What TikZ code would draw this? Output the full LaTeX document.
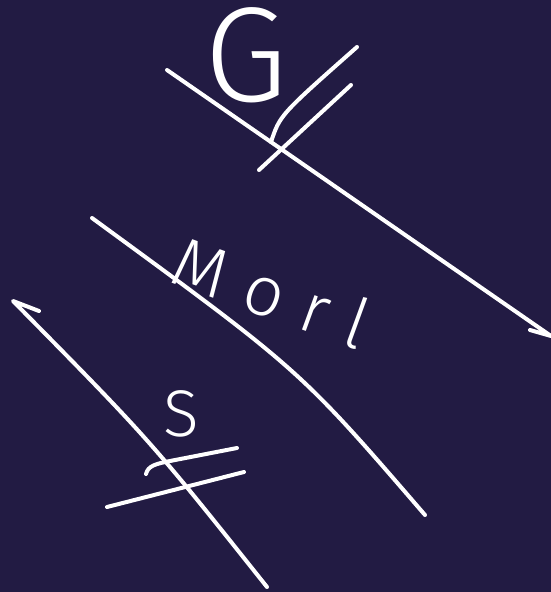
\documentclass[tikz,border=0pt]{standalone}
\usepackage{fontspec}
\usepackage{tikz}
\usetikzlibrary{arrows.meta}
\newfontfamily\hand{Fira Sans Light}
\newfontfamily\handwide{Fira Sans Light}[LetterSpace=30]
\definecolor{board}{RGB}{34,27,67}
\tikzset{
  chalk/.style={white,line width=4pt,line cap=round,line join=round},
  scrawl/.style={white,inner sep=0pt,font=\hand\fontsize{#1}{#1}\selectfont}
}

\begin{document}
\begin{tikzpicture}[x=1pt,y=-1pt]
  \fill[board] (0,0) rectangle (551,592);
  \useasboundingbox (0,0) rectangle (551,592);
  \coordinate (gs) at (167,70);
  \coordinate (ge) at (551,336);
  \coordinate (ms) at (92,218);
  \coordinate (me) at (425,515);
  \coordinate (ss) at (267,587);
  \coordinate (se) at (13,301);
  \draw[chalk] (gs) -- (ge) -- ++(-21,-6);
  \draw[chalk] (271,142) .. controls (280,115) .. (357,47);
  \draw[chalk] (259,170) -- (351,85);
  \draw[chalk] (ms) .. controls (300,370) .. (me);
  \draw[chalk] (ss) .. controls (150,440) .. (se) -- ++(26,10);
  \draw[chalk] (146,474) .. controls (148,466) and (155,464) .. (170,461) -- (237,448);
  \draw[chalk] (107,507) -- (244,472);
  \node[scrawl=135] (glab) at (246,55) {G};
  \node[scrawl=70,font=\handwide\fontsize{70}{70}\selectfont,rotate=-20] (mlab) at (272,292) {Morl};
  \node[scrawl=66] (slab) at (181,414) {S};
\end{tikzpicture}
\end{document}
